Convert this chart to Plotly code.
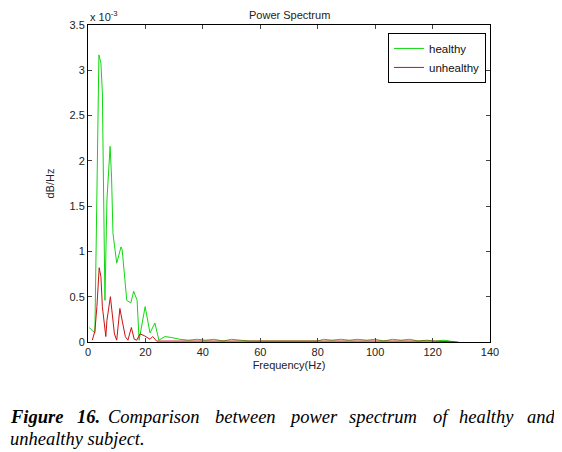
import plotly.graph_objects as go

# values in units of 1e-3 (dB/Hz)
healthy_f = [0.5, 1.0, 2.4, 3.1, 3.8, 4.5, 5.0, 5.9, 6.6, 7.7, 8.2, 8.7, 10.0, 11.5, 11.9,
             13.5, 14.9, 15.9, 17.1, 17.8, 19.9, 21.6, 23.3, 24.7, 26.8, 29, 32, 35, 38,
             41, 44, 47, 50, 53, 56, 60, 65, 70, 75, 80, 82, 85, 88, 91, 94, 97, 100,
             103, 106, 109, 112, 115, 118, 121, 124, 127, 128]
healthy_v = [0.16, 0.14, 0.1, 1.81, 3.17, 3.08, 2.75, 0.46, 1.57, 2.16, 1.82, 1.2, 0.87,
             1.05, 1.02, 0.46, 0.43, 0.56, 0.46, 0.02, 0.39, 0.1, 0.21, 0.02, 0.06, 0.05,
             0.03, 0.02, 0.03, 0.02, 0.03, 0.01, 0.03, 0.02, 0.01, 0.01, 0.01, 0.01, 0.01,
             0.01, 0.03, 0.02, 0.03, 0.02, 0.03, 0.02, 0.03, 0.01, 0.03, 0.02, 0.03, 0.01,
             0.02, 0.01, 0.02, 0.01, 0.0]

unhealthy_f = [1.5, 2.4, 3.1, 3.9, 4.5, 5.0, 6.2, 6.6, 7.8, 8.5, 9.2, 10.0, 11.1, 12.0,
               13.0, 13.9, 15.1, 16.1, 17.0, 18.1, 19.6, 21.6, 22.5, 23.9, 27, 32, 40,
               50, 60, 70, 80, 90, 100, 110, 120, 129]
unhealthy_v = [0.02, 0.12, 0.39, 0.82, 0.72, 0.39, 0.06, 0.24, 0.5, 0.31, 0.09, 0.02, 0.37,
               0.22, 0.06, 0.02, 0.16, 0.03, 0.02, 0.09, 0.07, 0.03, 0.06, 0.01, 0.01, 0.01,
               0.01, 0.01, 0.01, 0.01, 0.01, 0.01, 0.01, 0.01, 0.01, 0.0]

x_ticks = [0, 20, 40, 60, 80, 100, 120, 140]
y_ticks = [0, 0.5, 1, 1.5, 2, 2.5, 3, 3.5]
y_ticklabels = ["0", "0.5", "1", "1.5", "2", "2.5", "3", "3.5"]

caption_line1 = ["<b><i>Figure</i></b>", "<b><i>16.</i></b>", "<i>Comparison</i>", "<i>between</i>",
                 "<i>power</i>", "<i>spectrum</i>", "<i>of</i>", "<i>healthy</i>", "<i>and</i>"]
caption_line2 = "<i>unhealthy subject.</i>"

fig = go.Figure()
fig.add_trace(go.Scatter(x=healthy_f, y=healthy_v, mode="lines", name="healthy",
                         line=dict(color="#10d810", width=1)))
fig.add_trace(go.Scatter(x=unhealthy_f, y=unhealthy_v, mode="lines", name="unhealthy",
                         line=dict(color="#cc1010", width=1)))

axis_font = dict(family="Arial, Liberation Sans, sans-serif", size=11, color="#222")
fig.update_layout(
    width=554, height=444,
    margin=dict(l=80, r=72, t=17, b=110),
    paper_bgcolor="white", plot_bgcolor="white",
    showlegend=True,
    legend=dict(x=0.99, y=0.975, xanchor="right", yanchor="top",
                bordercolor="black", borderwidth=1, bgcolor="white",
                font=dict(family="Arial, Liberation Sans, sans-serif", size=11.5, color="#111"),
                tracegroupgap=0),
    xaxis=dict(range=[0, 140], tickvals=x_ticks, ticks="inside", ticklen=4,
               showline=True, linecolor="black", linewidth=1, mirror="ticks",
               showgrid=False, zeroline=False, tickfont=axis_font,
               title=dict(text="Frequency(Hz)", font=axis_font, standoff=4)),
    yaxis=dict(range=[0, 3.5], tickvals=y_ticks, ticktext=y_ticklabels, ticks="inside",
               ticklen=4, showline=True, linecolor="black", linewidth=1, mirror="ticks",
               showgrid=False, zeroline=False, tickfont=axis_font,
               title=dict(text="dB/Hz", font=axis_font, standoff=12)),
    annotations=[
        dict(text="Power Spectrum", x=0.5, y=1, xref="paper", yref="paper",
             xanchor="center", yanchor="bottom", yshift=2, showarrow=False,
             font=axis_font),
        dict(text="x 10<sup>-3</sup>", x=0, y=1, xref="paper", yref="paper",
             xanchor="left", yanchor="bottom", showarrow=False, font=axis_font),
    ],
)

# caption, justified word by word (pixel positions in the screenshot)
cap_font = dict(family="Liberation Serif, Times New Roman, serif", size=18.5, color="black")
word_x = [9, 76, 107, 214, 288, 348, 432, 458, 526]


def px_to_paper(px, py):
    return (px - 88) / 402, (342 - py) / 317


for txt, px in zip(caption_line1, word_x):
    xp, yp = px_to_paper(px, 417)
    fig.add_annotation(text=txt, x=xp, y=yp, xref="paper", yref="paper",
                       xanchor="left", yanchor="middle", showarrow=False, font=cap_font,
                       borderpad=0)
xp, yp = px_to_paper(9, 439)
fig.add_annotation(text=caption_line2, x=xp, y=yp, xref="paper", yref="paper",
                   xanchor="left", yanchor="middle", showarrow=False, font=cap_font,
                   borderpad=0)

fig.write_html("out.html")
